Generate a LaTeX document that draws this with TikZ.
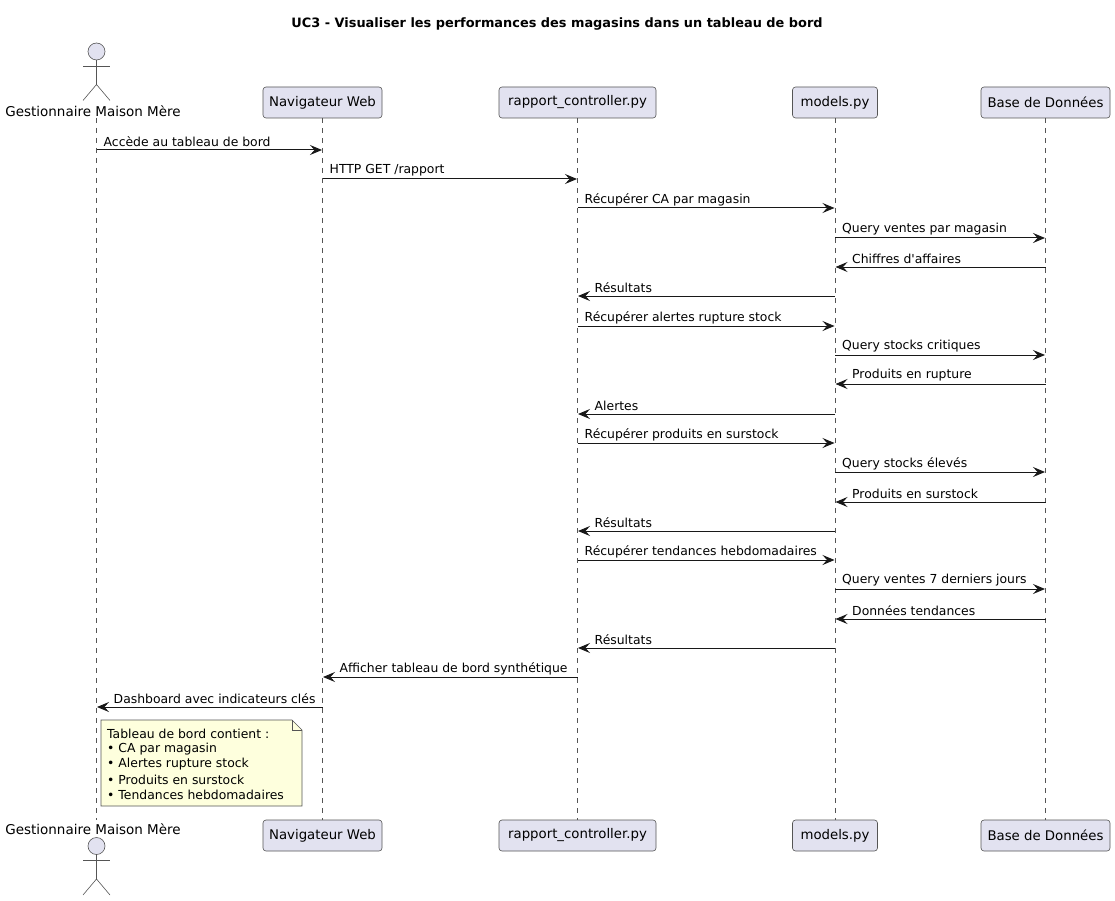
\documentclass[tikz,border=0pt]{standalone}
\usepackage{fontspec}
\setmainfont{DejaVu Sans}[Ligatures=TeXOff]
\usetikzlibrary{arrows.meta}
\definecolor{partfill}{HTML}{E2E2F0}
\definecolor{partline}{HTML}{181818}
\definecolor{lifeline}{HTML}{555555}
\definecolor{notefill}{HTML}{FEFFDD}
\tikzset{
  part/.style={draw=lifeline,fill=partfill,rounded corners=3pt,line width=0.6pt,minimum height=31pt,inner sep=0pt,font=\fontsize{13.3}{15}\selectfont},
  life/.style={draw=lifeline,line width=0.5pt,dash pattern=on 5pt off 5pt},
  msg/.style={draw=partline,line width=1pt,shorten >=0.5pt,-{Stealth[length=12pt,width=10pt,inset=4.5pt]}},
  msgtext/.style={inner sep=0pt,anchor=west,font=\fontsize{12.4}{14}\selectfont},
  actortext/.style={inner sep=0pt,font=\fontsize{13.5}{15}\selectfont},
  stick/.style={draw=lifeline,line width=0.6pt},
  notetext/.style={inner sep=0pt,anchor=west,font=\fontsize{12.4}{14}\selectfont}
}
\begin{document}
\begin{tikzpicture}[x=1pt,y=-1pt]
  \useasboundingbox (0,0) rectangle (1115,901);
  \node[inner sep=0pt,font=\bfseries\fontsize{12.9}{15}\selectfont] (title) at (557,24) {UC3 - Visualiser les performances des magasins dans un tableau de bord};
  % participants
  \foreach \name/\x/\w/\txt in {nav/322.5/119/Navigateur Web,rap/577.5/157/rapport\_controller.py,mod/835/85/models.py,bdd/1045.5/129/Base de Données} {
    \node[part,minimum width=\w pt] (\name top) at (\x,102.5) {\txt};
    \node[part,minimum width=\w pt] (\name bot) at (\x,835.5) {\txt};
    \draw[life] (\name top.south) -- (\name bot.north);
  }
  % actor
  \node[actortext] (gesttop) at (93,111.5) {Gestionnaire Maison Mère};
  \node[actortext] (gestbot) at (93,829) {Gestionnaire Maison Mère};
  \coordinate (gest) at (96.5,118);
  \coordinate (gestend) at (96.5,820);
  \draw[life] (gest) -- (gestend);
  \foreach \y/\s in {51.5/1,846/1} {
    \draw[stick,fill=partfill] (96.5,\y) circle (8.5pt);
    \draw[stick] (96.5,\y+8.5) -- ++(0,25) ++(-13.5,-19) -- ++(27,0);
    \draw[stick] (83,\y+49) -- (96.5,\y+33) -- (110,\y+49);
  }
  % messages
  \foreach \i/\y/\from/\to/\txt in {
    1/150/gest/navtop/Accède au tableau de bord,
    2/179/navtop/raptop/{HTTP GET /rapport},
    3/208/raptop/modtop/Récupérer CA par magasin,
    4/238/modtop/bddtop/Query ventes par magasin,
    7/326/raptop/modtop/Récupérer alertes rupture stock,
    8/355/modtop/bddtop/Query stocks critiques,
    11/443/raptop/modtop/Récupérer produits en surstock,
    12/472/modtop/bddtop/Query stocks élevés,
    15/560/raptop/modtop/Récupérer tendances hebdomadaires,
    16/589/modtop/bddtop/Query ventes 7 derniers jours} {
    \coordinate (a\i) at (\from |- 0,\y);
    \coordinate (b\i) at (\to |- 0,\y);
    \draw[msg] (a\i) -- (b\i);
    \node[msgtext] (t\i) at ([xshift=7pt,yshift=8.5pt]a\i) {\txt};
  }
  \foreach \i/\y/\from/\to/\txt in {
    5/267/bddtop/modtop/Chiffres d'affaires,
    6/296/modtop/raptop/Résultats,
    9/384/bddtop/modtop/Produits en rupture,
    10/414/modtop/raptop/Alertes,
    13/502/bddtop/modtop/Produits en surstock,
    14/531/modtop/raptop/Résultats,
    17/619/bddtop/modtop/Données tendances,
    18/648/modtop/raptop/Résultats,
    19/677/raptop/navtop/Afficher tableau de bord synthétique,
    20/707/navtop/gest/Dashboard avec indicateurs clés} {
    \coordinate (a\i) at (\from |- 0,\y);
    \coordinate (b\i) at (\to |- 0,\y);
    \draw[msg] (a\i) -- (b\i);
    \node[msgtext] (t\i) at ([xshift=17pt,yshift=8.5pt]b\i) {\txt};
  }
  % note
  \draw[lifeline,fill=notefill,line width=0.6pt] (101,720) -- (292,720) -- (302,730) -- (302,806) -- (101,806) -- cycle;
  \draw[lifeline,line width=0.6pt] (292,720) -- (292,730) -- (302,730);
  \foreach \i/\y/\txt in {1/733.5/Tableau de bord contient :,2/749/• CA par magasin,3/764/• Alertes rupture stock,4/779.5/• Produits en surstock,5/795/• Tendances hebdomadaires} {
    \node[notetext] (note\i) at (107,\y) {\txt};
  }
\end{tikzpicture}
\end{document}
